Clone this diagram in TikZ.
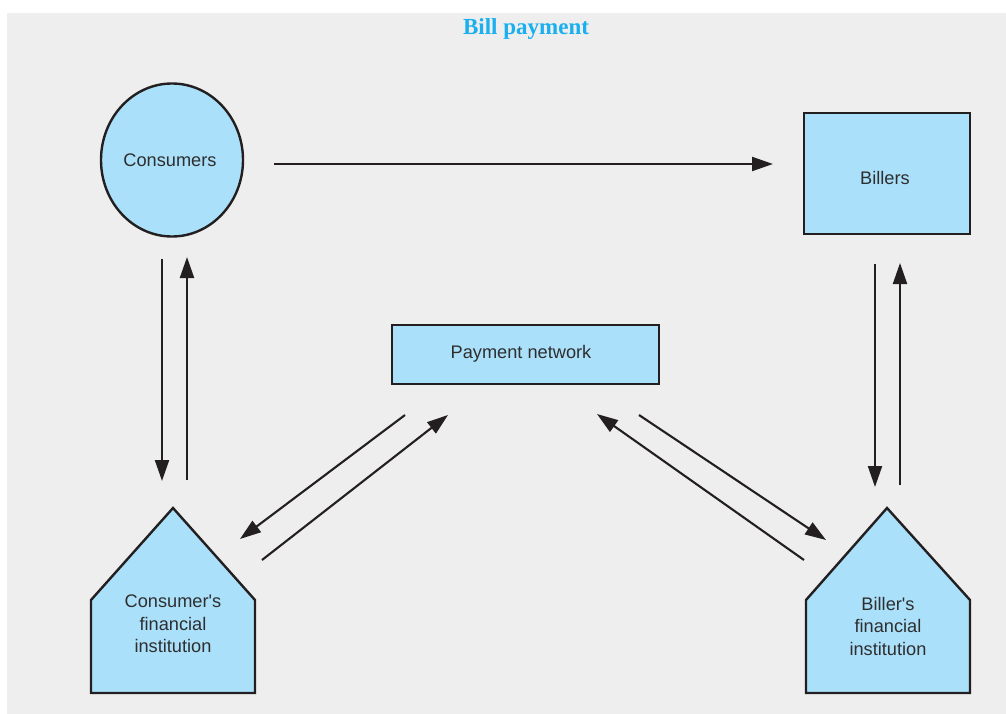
\documentclass[tikz,border=0pt]{standalone}
\usepackage{fontspec}
\setmainfont{Liberation Sans}
\newfontfamily\lblfont{Liberation Sans}
\newfontfamily\titlefont{Liberation Serif}
\usetikzlibrary{arrows.meta,shapes.geometric}
\definecolor{bg}{HTML}{EEEEEE}
\definecolor{boxfill}{HTML}{AAE0FA}
\definecolor{titleblue}{HTML}{1AAFEF}
\definecolor{ink}{HTML}{231F20}
\definecolor{txt}{HTML}{2E2E2E}
\begin{document}
\begin{tikzpicture}[x=1pt,y=-1pt,
  shapebox/.style={draw=ink,line width=2.4pt,fill=boxfill},
  lbl/.style={text=txt,font=\lblfont\fontsize{18.2}{22.5}\selectfont,align=center},
  conn/.style={draw=ink,line width=2.1pt,-{Triangle[length=21pt,width=14pt]}}]
\useasboundingbox (0,0) rectangle (1006,714);
\fill[white] (0,0) rectangle (1006,714);
\fill[bg] (7,13) rectangle (1006,714);
\node[font=\titlefont\bfseries\fontsize{23}{26}\selectfont, text=titleblue] (title) at (526,29.5) {Bill payment};
% shapes
\node[shapebox, ellipse, minimum width=142pt, minimum height=153pt, inner sep=0pt] (cons) at (172,160) {};
\node[lbl] (consl) at (170,160) {Consumers};
\node[shapebox, rectangle, minimum width=166pt, minimum height=121pt, inner sep=0pt] (bill) at (887,173.5) {};
\node[lbl] (billl) at (885,178) {Billers};
\node[shapebox, rectangle, minimum width=267pt, minimum height=59pt, inner sep=0pt] (pay) at (525.5,354.5) {};
\node[lbl] (payl) at (521,354) {Payment network};
\draw[shapebox] (91,600) -- (173,508) -- (255,600) -- (255,693) -- (91,693) -- cycle;
\node[lbl] (cfi) at (173,624) {Consumer's\\financial\\institution};
\draw[shapebox] (806,600) -- (887,508) -- (970,600) -- (970,693) -- (806,693) -- cycle;
\node[lbl] (bfi) at (888,626) {Biller's\\financial\\institution};
% connector end points
\coordinate (a1s) at (274,164); \coordinate (a1e) at (773,164);
\coordinate (a2s) at (162,259); \coordinate (a2e) at (162,481);
\coordinate (a3s) at (187,480); \coordinate (a3e) at (187,257);
\coordinate (a4s) at (875,264); \coordinate (a4e) at (875,487);
\coordinate (a5s) at (900,485); \coordinate (a5e) at (900,263);
\coordinate (a6s) at (405,415); \coordinate (a6e) at (240,539);
\coordinate (a7s) at (262,560); \coordinate (a7e) at (448,415);
\coordinate (a8s) at (639,415); \coordinate (a8e) at (826,540);
\coordinate (a9s) at (804,560); \coordinate (a9e) at (597,414);
\draw[conn] (a1s) -- (a1e);
\draw[conn] (a2s) -- (a2e);
\draw[conn] (a3s) -- (a3e);
\draw[conn] (a4s) -- (a4e);
\draw[conn] (a5s) -- (a5e);
\draw[conn] (a6s) -- (a6e);
\draw[conn] (a7s) -- (a7e);
\draw[conn] (a8s) -- (a8e);
\draw[conn] (a9s) -- (a9e);
\end{tikzpicture}
\end{document}
